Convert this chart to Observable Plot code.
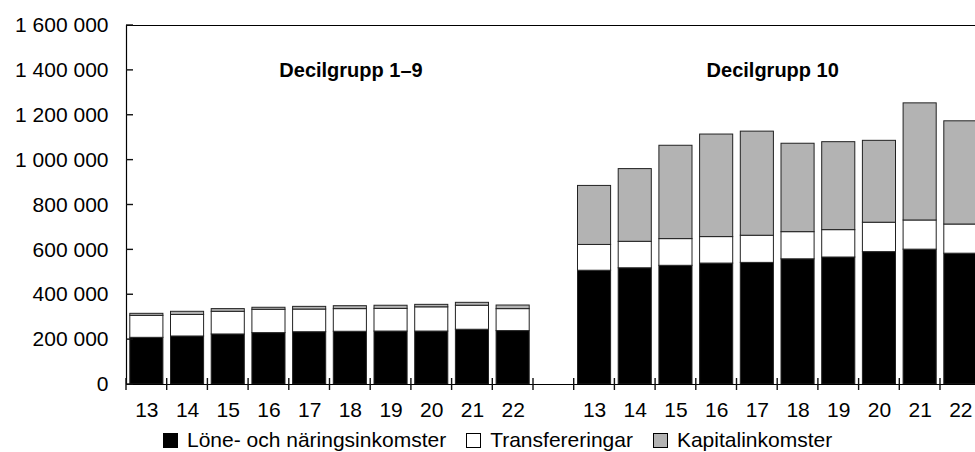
<!DOCTYPE html>
<html><head><meta charset="utf-8">
<script src="https://cdn.jsdelivr.net/npm/d3@7"></script>
<script src="https://cdn.jsdelivr.net/npm/@observablehq/plot@0.6"></script>
<style>
body{margin:0;background:#fff;font-family:"Liberation Sans",Arial,sans-serif;}
#wrap{position:relative;width:975px;height:452px;overflow:hidden;background:#fff}
#legend{position:absolute;left:163px;top:428px;display:flex;align-items:center;font-size:21px;white-space:nowrap;color:#000}
.sw{display:inline-block;width:13px;height:13px;border:1px solid #000;margin-right:9px;box-sizing:content-box}
.item{display:flex;align-items:center;margin-right:20px}
</style></head><body><div id="wrap"><div id="chart"></div><div id="legend"></div></div>
<script>
// ---- data ----
const years = ["13","14","15","16","17","18","19","20","21","22"];
const groups = ["Decilgrupp 1–9","Decilgrupp 10"];
const series = ["Löne- och näringsinkomster","Transfereringar","Kapitalinkomster"];
const colors = ["#000000","#ffffff","#b3b3b3"];
// Decilgrupp 1–9
const lone1  = [208000,214000,223000,229000,233000,235000,236000,236000,244000,238000];
const trans1 = [ 98000, 96000,101000,104000,101000,101000,101000,108000,107000, 98000];
const kap1   = [  9000, 14000, 12000,  9000, 12000, 13000, 14000, 11000, 13000, 16000];
// Decilgrupp 10
const lone2  = [507000,518000,529000,539000,542000,558000,566000,590000,601000,583000];
const trans2 = [115000,118000,119000,118000,121000,121000,122000,131000,130000,130000];
const kap2   = [263000,324000,416000,457000,464000,394000,392000,365000,522000,460000];
const yTicks = [0,200000,400000,600000,800000,1000000,1200000,1400000,1600000];

// ---- build table ----
const groupSeries = [[lone1,trans1,kap1],[lone2,trans2,kap2]];
const slotsPerGroup = years.length + 1; // one empty slot between groups
const nSlots = groups.length * slotsPerGroup - 1;
const rows = [];
const labels = [];
groupSeries.forEach((vals, g) => {
  years.forEach((yr, i) => {
    const pos = g * slotsPerGroup + i;
    labels.push({pos: pos + 0.5, label: yr});
    let acc = 0;
    series.forEach((s, k) => {
      const v = vals[k][i];
      rows.push({x1: pos, x2: pos + 1, y1: acc, y2: acc + v, series: s});
      acc += v;
    });
  });
});
const boundaries = d3.range(0, nSlots + 1);
const labelPos = labels.map(d => d.pos);
const labelMap = new Map(labels.map(d => [d.pos, d.label]));
const groupCenter = groups.map((g, i) => ({name: g, x: i * slotsPerGroup + years.length / 2}));

const loc = d3.formatLocale({decimal: ",", thousands: " ", grouping: [3], currency: ["", ""]});
const fmt = loc.format(",");

const chart = Plot.plot({
  width: 975, height: 426,
  marginLeft: 126, marginRight: 0, marginTop: 25, marginBottom: 42,
  style: {fontFamily: "'Liberation Sans', Arial, sans-serif", fontSize: "21px", color: "#000", background: "#fff"},
  x: {domain: [0, nSlots], range: [126, 126 + nSlots * 40.7], label: null, axis: null},
  y: {domain: [0, 1600000], label: null, axis: null},
  color: {domain: series, range: colors},
  marks: [
    Plot.rect(rows, {x1: "x1", x2: "x2", y1: "y1", y2: "y2", fill: "series", stroke: "#222", strokeWidth: 1, insetLeft: 3.8, insetRight: 3.8}),
    Plot.ruleY([1600000], {stroke: "#000", strokeWidth: 1.2}),
    Plot.ruleY([0], {stroke: "#000", strokeWidth: 1.2}),
    Plot.ruleX([0], {stroke: "#000", strokeWidth: 1.2}),
    // inward y ticks (thin rects from the axis)
    Plot.rect(yTicks, {x1: () => 0, x2: () => 0, y1: d => d, y2: d => d, insetRight: -7, insetLeft: 0, insetTop: -0.7, insetBottom: -0.7, fill: "#111"}),
    // x ticks crossing the axis at category boundaries
    Plot.rect(boundaries, {x1: d => d, x2: d => d, y1: () => 0, y2: () => 0, insetTop: -6, insetBottom: -6, insetLeft: -0.7, insetRight: -0.7, fill: "#111"}),
    Plot.axisY({ticks: yTicks, tickSize: 0, tickPadding: 18, tickFormat: fmt, label: null, fill: "#000", fontSize: 21}),
    Plot.axisX({ticks: labelPos, tickSize: 0, tickPadding: 18, tickFormat: d => labelMap.get(d), label: null, fill: "#000", fontSize: 21}),
    Plot.text([groupCenter[0]], {x: "x", y: () => 1400000, text: "name", fontWeight: "bold", fontSize: 20, dx: 21, fill: "#000"}),
    Plot.text([groupCenter[1]], {x: "x", y: () => 1400000, text: "name", fontWeight: "bold", fontSize: 20, dx: -5, fill: "#000"})
  ]
});
document.getElementById("chart").appendChild(chart);

const legend = document.getElementById("legend");
series.forEach((s, k) => {
  const item = document.createElement("span");
  item.className = "item";
  const sw = document.createElement("span");
  sw.className = "sw";
  sw.style.background = colors[k];
  item.appendChild(sw);
  item.appendChild(document.createTextNode(s));
  legend.appendChild(item);
});
</script></body></html>
